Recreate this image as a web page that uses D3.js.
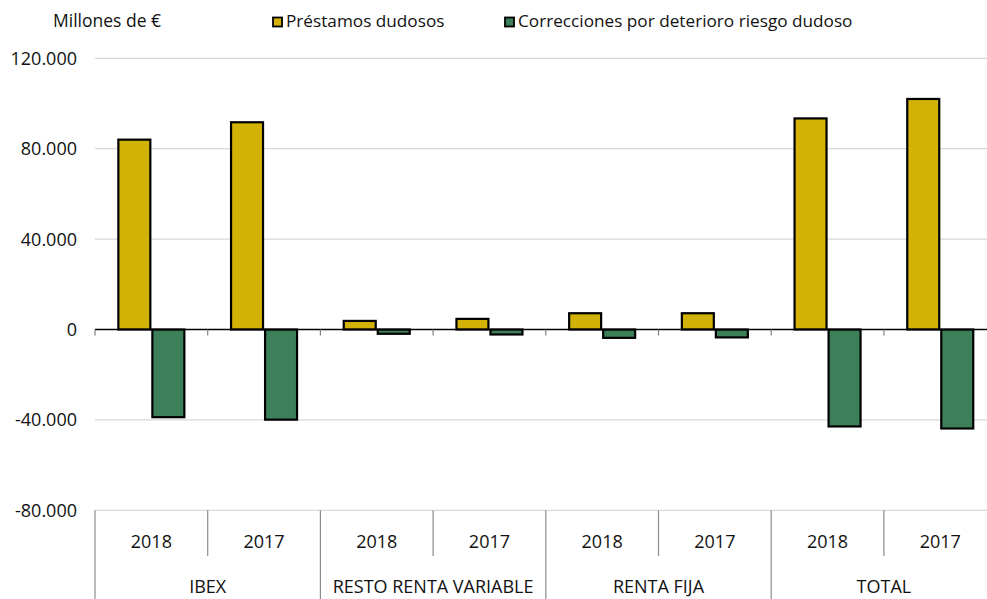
<!DOCTYPE html>
<html>
<head>
<meta charset="utf-8">
<script src="https://cdn.jsdelivr.net/npm/d3@7"></script>
<style>
  html, body { margin: 0; padding: 0; background: #fff; }
  svg { display: block; font-family: "Open Sans", sans-serif; }
</style>
</head>
<body>
<svg id="chart" width="987" height="599"></svg>
<script>
// ---- data ----
const categories = ["IBEX", "RESTO RENTA VARIABLE", "RENTA FIJA", "TOTAL"];
const years = ["2018", "2017"];
const seriesNames = ["Préstamos dudosos", "Correcciones por deterioro riesgo dudoso"];
const prestamos = [84000, 91700, 3800, 4700, 7200, 7200, 93400, 102000];
const correcciones = [-38800, -39900, -1900, -2200, -3700, -3500, -42900, -43800];
const yTicks = [-80000, -40000, 0, 40000, 80000, 120000];
const unitLabel = "Millones de €";

// ---- layout ----
const colors = ["#d2b206", "#3c7f59"];
const svg = d3.select("#chart");
const plotLeft = 95, plotRight = 996.6, plotTop = 58.3, plotBottom = 510.3;

const rows = [];
categories.forEach((c, i) => years.forEach((yr, j) => {
  const k = i * years.length + j;
  rows.push({key: c + "|" + yr, cat: c, year: yr, values: [prestamos[k], correcciones[k]]});
}));

const x = d3.scaleBand().domain(rows.map(d => d.key)).range([plotLeft, plotRight]).padding(0);
const y = d3.scaleLinear().domain([-80000, 120000]).range([plotBottom, plotTop]);
const locale = d3.formatLocale({decimal: ",", thousands: ".", grouping: [3], currency: ["", "€"], minus: "-"});
const fmt = locale.format(",.0f");

// gridlines
svg.append("g").selectAll("line").data(yTicks.filter(t => t !== 0)).join("line")
  .attr("x1", plotLeft).attr("x2", 987)
  .attr("y1", d => y(d)).attr("y2", d => y(d))
  .attr("stroke", "#d9d9d9").attr("stroke-width", 1.2);

// y axis labels
svg.append("g").selectAll("text").data(yTicks).join("text")
  .attr("x", 77).attr("y", d => y(d)).attr("dy", "0.36em")
  .attr("text-anchor", "end").attr("font-size", 18).attr("fill", "#111")
  .text(d => fmt(d));

// bars
const inner = d3.scaleBand().domain([0, 1]).range([0, 66]).paddingInner(0.06);
const barG = svg.append("g");
rows.forEach(r => {
  const cx = x(r.key) + x.bandwidth() / 2 - 33;
  barG.selectAll(null).data(r.values).join("rect")
    .attr("x", (d, i) => cx + inner(i))
    .attr("width", inner.bandwidth())
    .attr("y", d => y(Math.max(0, d)))
    .attr("height", d => Math.abs(y(d) - y(0)))
    .attr("fill", (d, i) => colors[i])
    .attr("stroke", "#000").attr("stroke-width", 2.2);
});

// zero line and ticks
svg.append("line").attr("x1", plotLeft).attr("x2", 987).attr("y1", y(0)).attr("y2", y(0))
  .attr("stroke", "#000").attr("stroke-width", 1.3);
svg.append("g").selectAll("line").data(rows).join("line")
  .attr("x1", d => x(d.key)).attr("x2", d => x(d.key))
  .attr("y1", y(0)).attr("y2", y(0) + 6)
  .attr("stroke", "#808080").attr("stroke-width", 1.2);

// category axis (two levels)
const axG = svg.append("g");
axG.selectAll("line.yr").data(rows).join("line").attr("class", "yr")
  .attr("x1", d => x(d.key)).attr("x2", d => x(d.key))
  .attr("y1", plotBottom).attr("y2", (d, i) => i % years.length === 0 ? 599 : 556)
  .attr("stroke", "#8c8c8c").attr("stroke-width", 1.2);
axG.selectAll("text.yr").data(rows).join("text").attr("class", "yr")
  .attr("x", d => x(d.key) + x.bandwidth() / 2).attr("y", 542).attr("dy", "0.36em")
  .attr("text-anchor", "middle").attr("font-size", 18).attr("fill", "#111")
  .text(d => d.year);
axG.selectAll("text.cat").data(categories).join("text").attr("class", "cat")
  .attr("x", d => x(d + "|" + years[0]) + x.bandwidth())
  .attr("y", 587).attr("dy", "0.36em")
  .attr("text-anchor", "middle").attr("font-size", 18).attr("fill", "#111")
  .text(d => d);

// unit label
svg.append("text").attr("x", 53).attr("y", 27).attr("font-size", 17.5).attr("fill", "#111").text(unitLabel);

// legend
const legX = [273, 505];
seriesNames.forEach((s, i) => {
  svg.append("rect").attr("x", legX[i]).attr("y", 17.5).attr("width", 9).attr("height", 9)
    .attr("fill", colors[i]).attr("stroke", "#000").attr("stroke-width", 1.8);
  svg.append("text").attr("x", legX[i] + 13).attr("y", 27).attr("font-size", 17.2).attr("fill", "#111").text(s);
});
</script>
</body>
</html>
